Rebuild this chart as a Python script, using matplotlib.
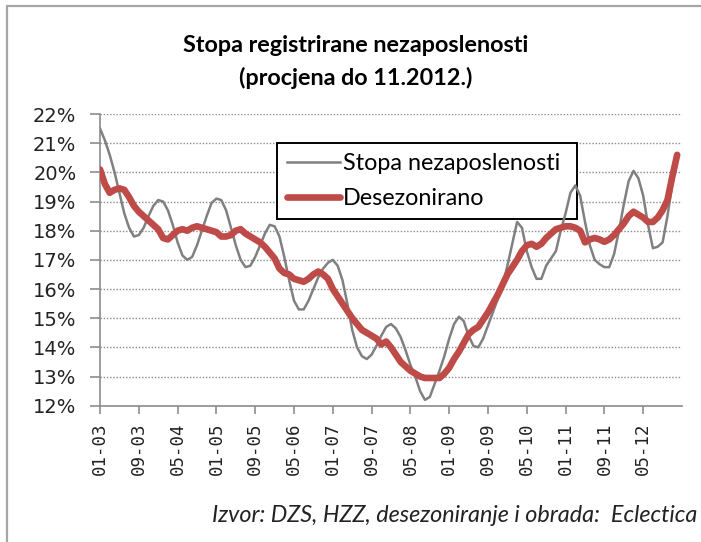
import matplotlib
matplotlib.use("Agg")
import matplotlib.pyplot as plt
from matplotlib.patches import Rectangle
from matplotlib.ticker import FuncFormatter

# monthly series, 01/2003 - 12/2012 (%)
stopa = [
    21.5, 21.1, 20.6, 20.0, 19.3, 18.6, 18.1, 17.8, 17.85, 18.1,
    18.5, 18.85, 19.05, 19.0, 18.7, 18.2, 17.6, 17.15, 17.0, 17.1,
    17.5, 18.0, 18.5, 18.95, 19.1, 19.05, 18.7, 18.1, 17.5, 17.0,
    16.75, 16.8, 17.1, 17.5, 17.9, 18.2, 18.15, 17.8, 17.1, 16.3,
    15.6, 15.3, 15.3, 15.6, 16.0, 16.4, 16.7, 16.9, 17.0, 16.8,
    16.3, 15.5, 14.6, 14.0, 13.7, 13.6, 13.75, 14.05, 14.4, 14.7,
    14.8, 14.65, 14.35, 13.9, 13.4, 13.0, 12.5, 12.2, 12.3, 12.75,
    13.2, 13.7, 14.3, 14.8, 15.05, 14.9, 14.4, 14.05, 14.0, 14.3,
    14.75, 15.2, 15.65, 16.1, 16.8, 17.55, 18.3, 18.1, 17.3, 16.75,
    16.35, 16.35, 16.8, 17.05, 17.3, 18.0, 18.6, 19.3, 19.55, 19.2,
    18.3, 17.5, 17.0, 16.85, 16.75, 16.75, 17.2, 18.0, 18.9, 19.7,
    20.05, 19.8, 19.2, 18.2, 17.4, 17.45, 17.6, 18.5, 19.6, 20.55,
]
desez = [
    20.1, 19.6, 19.3, 19.4, 19.45, 19.4, 19.15, 18.85, 18.65, 18.5,
    18.35, 18.2, 18.05, 17.75, 17.7, 17.85, 18.0, 18.05, 18.0, 18.1,
    18.15, 18.1, 18.05, 18.0, 17.95, 17.8, 17.8, 17.85, 18.0, 18.05,
    17.9, 17.8, 17.7, 17.6, 17.45, 17.25, 17.05, 16.7, 16.55, 16.5,
    16.35, 16.3, 16.25, 16.35, 16.5, 16.6, 16.5, 16.35, 16.0, 15.75,
    15.5, 15.25, 15.0, 14.8, 14.6, 14.5, 14.4, 14.3, 14.1, 14.2,
    14.0, 13.75, 13.5, 13.35, 13.2, 13.1, 13.0, 12.95, 12.95, 12.95,
    12.95, 13.1, 13.3, 13.6, 13.85, 14.15, 14.45, 14.6, 14.7, 14.95,
    15.2, 15.5, 15.8, 16.15, 16.5, 16.75, 17.0, 17.3, 17.5, 17.55,
    17.45, 17.55, 17.75, 17.9, 18.05, 18.1, 18.15, 18.15, 18.1, 18.0,
    17.6, 17.7, 17.75, 17.7, 17.62, 17.7, 17.85, 18.05, 18.25, 18.5,
    18.65, 18.55, 18.45, 18.3, 18.3, 18.45, 18.7, 19.05, 19.85, 20.6,
]
tick_labels = ["01-03", "09-03", "05-04", "01-05", "09-05", "05-06", "01-07",
               "09-07", "05-08", "01-09", "09-09", "05-10", "01-11", "09-11",
               "05-12"]

months = list(range(len(stopa)))

fig = plt.figure(figsize=(7.01, 5.42), dpi=100)
fig.patches.append(Rectangle((7 / 701, -0.1), 1.2, 1.1 - 6 / 542,
                             transform=fig.transFigure, fill=False,
                             edgecolor="#a6a6a6", linewidth=1.6))

ax = fig.add_axes([100 / 701, 1 - 405.7 / 542, 582 / 701, 291.7 / 542])
ax.plot(months, stopa, color="#808080", linewidth=1.8,
        label="Stopa nezaposlenosti", zorder=3)
ax.plot(months, desez, color="#be4b48", linewidth=4.8,
        label="Desezonirano", zorder=4, solid_capstyle="round")

ax.set_xlim(0, 120)
ax.set_ylim(12, 22)
ax.set_yticks(range(12, 23))
ax.yaxis.set_major_formatter(FuncFormatter(lambda v, p: "%d%%" % v))
ax.set_xticks(range(0, 120, 8))
ax.set_xticklabels(tick_labels, rotation=90, family="DejaVu Sans Mono",
                   fontsize=12.5)
for t in ax.get_yticklabels():
    t.set_fontsize(14)
    t.set_color("#222222")

ax.grid(axis="y", color="#8c8c8c", linestyle=(0, (1, 1.3)), linewidth=1.0)
ax.set_axisbelow(True)
for s in ["top", "right"]:
    ax.spines[s].set_visible(False)
for s in ["left", "bottom"]:
    ax.spines[s].set_color("#8c8c8c")
    ax.spines[s].set_linewidth(1.2)
ax.tick_params(axis="y", length=7, width=1.2, color="#8c8c8c", pad=10)
ax.tick_params(axis="x", length=6, width=1.2, color="#8c8c8c", pad=6,
               labelcolor="#222222")

leg = ax.legend(loc="upper left", bbox_to_anchor=(0.304, 0.6296, 0.5156, 0.271),
                mode="expand", borderaxespad=0,
                prop={"family": "Lato", "size": 16.8},
                handlelength=2.3, handletextpad=0.1, labelspacing=0.62,
                borderpad=0.42, fancybox=False, framealpha=1)
leg.get_frame().set_edgecolor("black")
leg.get_frame().set_linewidth(1.4)
# legend box sits under the series lines
leg.set_zorder(2.5)

fig.text(0.508, 1 - 45 / 542, "Stopa registrirane nezaposlenosti",
         ha="center", va="center", family="Lato", weight="bold", fontsize=16.8)
fig.text(0.508, 1 - 78 / 542, "(procjena do 11.2012.)",
         ha="center", va="center", family="Lato", weight="bold", fontsize=16.8)
fig.text(697 / 701, 1 - 515 / 542,
         "Izvor: DZS, HZZ, desezoniranje i obrada:  Eclectica",
         ha="right", va="center", family="Lato", style="italic", fontsize=16.8,
         color="#222222")

fig.savefig("out.png", dpi=100)
